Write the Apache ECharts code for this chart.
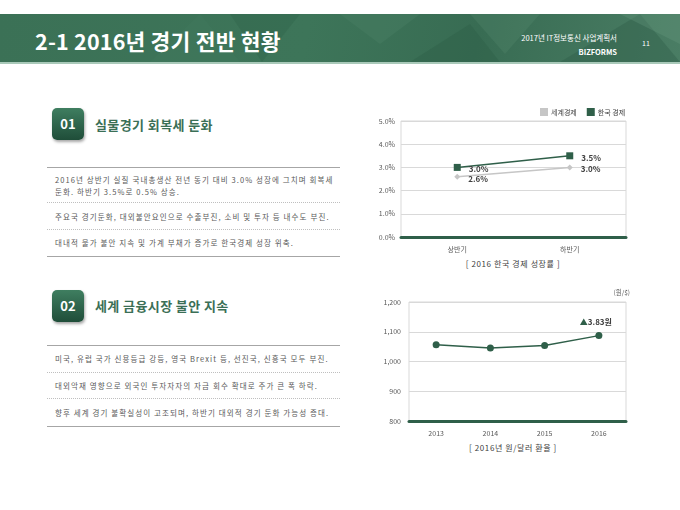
<!DOCTYPE html>
<html><head><meta charset="utf-8">
<script src="https://cdn.jsdelivr.net/npm/echarts@6/dist/echarts.min.js"></script>
<style>
html,body{margin:0;padding:0;background:#fff;}
body{width:680px;height:510px;position:relative;overflow:hidden;font-family:"Noto Sans CJK KR","Noto Sans",sans-serif;}
.abs{position:absolute;white-space:nowrap;}
#header{position:absolute;left:0;top:14px;width:680px;height:48px;background:linear-gradient(100deg,#3b7156 0%,#3d7559 45%,#386c53 70%,#4a7d64 100%);border-bottom:2px solid #a9c9b9;overflow:hidden;}
#header svg{position:absolute;left:0;top:0;}
.box{position:absolute;width:32px;height:32px;border-radius:5px;background:linear-gradient(180deg,#3f7e60,#1f4d39);color:#fff;font-weight:bold;font-size:13px;line-height:32px;text-align:center;box-shadow:1px 2px 3px rgba(0,0,0,0.35);}
.sec{position:absolute;color:#3b6f56;font-weight:bold;font-size:13px;letter-spacing:0.4px;}
.solid{position:absolute;left:47px;width:293px;height:0;border-top:1.3px solid #a6a6a6;}
.dot{position:absolute;left:47px;width:293px;height:0;border-top:1px dotted #bfbfbf;}
.t{position:absolute;left:55px;font-size:7.5px;letter-spacing:1.1px;color:#595959;white-space:nowrap;}
#chart{position:absolute;left:0;top:0;width:680px;height:510px;}
.cap{position:absolute;font-size:8px;letter-spacing:0.6px;color:#404040;white-space:nowrap;transform:translateX(-50%);}
</style></head>
<body>
<div id="header">
<svg width="680" height="48">
<polygon points="230,0 300,0 262,48" fill="#2f6249" opacity="0.35"/>
<polygon points="340,0 420,0 380,30" fill="#4f866a" opacity="0.3"/>
<polygon points="410,48 470,10 500,48" fill="#2c5c45" opacity="0.35"/>
<polygon points="470,0 540,0 505,40" fill="#5a8f74" opacity="0.25"/>
<polygon points="560,48 640,0 680,48" fill="#2b5a44" opacity="0.35"/>
<polygon points="620,0 680,0 680,30" fill="#6a9a82" opacity="0.3"/>
<polygon points="150,48 200,0 240,48" fill="#447a5f" opacity="0.25"/>
</svg>
</div>
<div class="abs" style="left:35px;top:25px;color:#fff;font-weight:bold;font-size:21.5px;letter-spacing:0.2px;">2-1 2016년 경기 전반 현황</div>
<div class="abs" style="right:63px;top:32px;color:#fff;font-size:7.5px;text-align:right;">2017년 IT정보통신 사업계획서</div>
<div class="abs" style="right:63px;top:46px;color:#fff;font-size:7.5px;font-weight:bold;text-align:right;">BIZFORMS</div>
<div class="abs" style="left:642px;top:38px;color:#fff;font-size:7px;">11</div>

<div class="box" style="left:52px;top:108px;">01</div>
<div class="sec" style="left:95px;top:115px;">실물경기 회복세 둔화</div>
<div class="solid" style="top:167px;"></div>
<div class="t" style="top:174px;">2016년 상반기 실질 국내총생산 전년 동기 대비 3.0% 성장에 그치며 회복세</div>
<div class="t" style="top:186px;">둔화. 하반기 3.5%로 0.5% 상승.</div>
<div class="dot" style="top:202px;"></div>
<div class="t" style="top:211px;">주요국 경기둔화, 대외불안요인으로 수출부진, 소비 및 투자 등 내수도 부진.</div>
<div class="dot" style="top:229px;"></div>
<div class="t" style="top:237px;">대내적 물가 불안 지속 및 가계 부채가 증가로 한국경제 성장 위축.</div>
<div class="solid" style="top:256px;"></div>

<div class="box" style="left:52px;top:290px;">02</div>
<div class="sec" style="left:95px;top:296px;">세계 금융시장 불안 지속</div>
<div class="solid" style="top:345px;"></div>
<div class="t" style="top:353px;">미국, 유럽 국가 신용등급 강등, 영국 Brexit 등, 선진국, 신흥국 모두 부진.</div>
<div class="dot" style="top:372px;"></div>
<div class="t" style="top:380px;">대외악재 영향으로 외국인 투자자자의 자금 회수 확대로 주가 큰 폭 하락.</div>
<div class="dot" style="top:398px;"></div>
<div class="t" style="top:407px;">향후 세계 경기 불확실성이 고조되며, 하반기 대외적 경기 둔화 가능성 증대.</div>
<div class="solid" style="top:426px;"></div>

<div class="cap" style="left:513px;top:258px;">[ 2016 한국 경제 성장률 ]</div>
<div class="cap" style="left:513px;top:442px;">[ 2016년 원/달러 환율 ]</div>

<div id="chart"></div>
<script>
// Chart 1: 2016 Korean economic growth rate
const halfCategories = ['상반기', '하반기'];
const worldGrowth = [2.6, 3.0];
const koreaGrowth = [3.0, 3.5];
const growthTicks = [0, 1, 2, 3, 4, 5];
// Chart 2: KRW/USD exchange rate
const years = ['2013', '2014', '2015', '2016'];
const exchangeRate = [1056, 1045, 1054, 1087];
const rateNote = '3.83원';

const green = '#2f5f49';
const gray = '#c6c6c6';
const axisLabel = {fontSize: 7, color: '#595959', fontFamily: 'Noto Sans CJK KR'};

const chart = echarts.init(document.getElementById('chart'));
chart.setOption({
  animation: false,
  textStyle: {fontFamily: 'Noto Sans CJK KR'},
  legend: {
    data: ['세계경제', '한국 경제'],
    left: 535, top: 103,
    icon: 'rect', itemWidth: 8, itemHeight: 8, itemGap: 10,
    textStyle: {fontSize: 7, color: '#404040', padding: [0, 0, 0, -2]}
  },
  grid: [
    {left: 401, top: 121, width: 225, height: 116, show: true, borderColor: '#d9d9d9', borderWidth: 1},
    {left: 409, top: 302, width: 217, height: 119, show: true, borderColor: '#d9d9d9', borderWidth: 1}
  ],
  xAxis: [
    {gridIndex: 0, type: 'category', data: halfCategories, boundaryGap: true,
     axisLine: {lineStyle: {color: green, width: 3}}, axisTick: {show: false},
     axisLabel: Object.assign({margin: 9}, axisLabel)},
    {gridIndex: 1, type: 'category', data: years, boundaryGap: true,
     axisLine: {lineStyle: {color: green, width: 3}}, axisTick: {show: false},
     axisLabel: Object.assign({margin: 9}, axisLabel)}
  ],
  yAxis: [
    {gridIndex: 0, type: 'value', min: growthTicks[0], max: growthTicks[growthTicks.length - 1], interval: 1,
     axisLine: {show: false}, axisTick: {show: false},
     splitLine: {lineStyle: {color: '#d9d9d9', width: 1}},
     axisLabel: Object.assign({formatter: v => v.toFixed(1) + '%', margin: 6}, axisLabel)},
    {gridIndex: 1, type: 'value', min: 800, max: 1200, interval: 100,
     axisLine: {show: false}, axisTick: {show: false},
     splitLine: {lineStyle: {color: '#d9d9d9', width: 1}},
     axisLabel: Object.assign({formatter: v => v.toLocaleString('en-US'), margin: 8}, axisLabel)}
  ],
  series: [
    {name: '세계경제', type: 'line', xAxisIndex: 0, yAxisIndex: 0, data: worldGrowth,
     symbol: 'diamond', symbolSize: 6, itemStyle: {color: gray}, lineStyle: {color: gray, width: 1.5},
     label: {show: true, position: 'right', distance: 8, offset: [0, 2], formatter: p => p.value.toFixed(1) + '%',
             fontSize: 8, fontWeight: 'bold', color: '#404040'}},
    {name: '한국 경제', type: 'line', xAxisIndex: 0, yAxisIndex: 0, data: koreaGrowth,
     symbol: 'rect', symbolSize: 7, itemStyle: {color: green}, lineStyle: {color: green, width: 1.5},
     label: {show: true, position: 'right', distance: 8, offset: [0, 2], formatter: p => p.value.toFixed(1) + '%',
             fontSize: 8, fontWeight: 'bold', color: '#404040'}},
    {name: '환율', type: 'line', xAxisIndex: 1, yAxisIndex: 1,
     data: exchangeRate.map((v, i) => i === exchangeRate.length - 1 ? {
        value: v,
        label: {show: true, position: 'top', distance: 6, offset: [-3, 0],
                formatter: '{a|▲}{b|' + rateNote + '}',
                rich: {a: {fontSize: 8, color: green}, b: {fontSize: 8, color: '#404040', fontWeight: 'bold'}}}
     } : v),
     symbol: 'circle', symbolSize: 7, itemStyle: {color: green}, lineStyle: {color: green, width: 1.5}}
  ],
  graphic: [
    {type: 'text', right: 50, top: 289, style: {text: '(원/$)', fontSize: 6.5, fill: '#595959', fontFamily: 'Noto Sans CJK KR'}}
  ]
});
</script>
</body></html>
